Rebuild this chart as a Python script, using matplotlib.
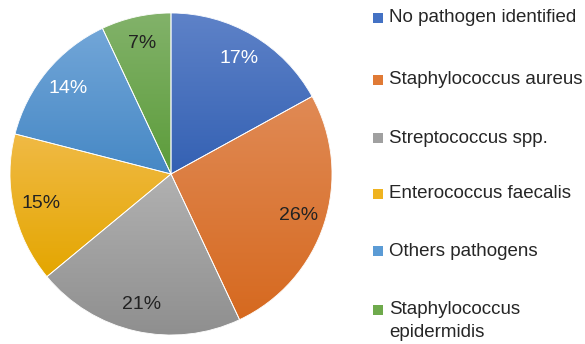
import matplotlib
matplotlib.use("Agg")
import matplotlib.pyplot as plt
import numpy as np
from matplotlib.colors import LinearSegmentedColormap
from matplotlib.patches import Rectangle, PathPatch

plt.rcParams['font.family'] = ['Liberation Sans', 'DejaVu Sans']

categories = ["No pathogen identified", "Staphylococcus aureus", "Streptococcus spp.",
              "Enterococcus faecalis", "Others pathogens", "Staphylococcus\nepidermidis"]
values = [17, 26, 21, 15, 14, 7]
top_colors = ["#5e82c8", "#e08a55", "#b1b1b1", "#f0ba45", "#72a6d8", "#82b26a"]
bottom_colors = ["#3461b3", "#d6691f", "#8e8e8e", "#e4a600", "#4688c5", "#5c9c3a"]
mid_colors = ["#4472c4", "#e07a35", "#a0a0a0", "#efb320", "#5b9bd5", "#6eaa4c"]
label_colors = ["white", "#222222", "#222222", "#222222", "white", "#222222"]

fig = plt.figure(figsize=(5.85, 3.44), dpi=100)
cx, cy, r = 171, 174, 161
W, H = 585, 344
ax = fig.add_axes([(cx - r) / W, (H - cy - r) / H, 2 * r / W, 2 * r / H])

wedges, texts, autotexts = ax.pie(
    values, colors=mid_colors, startangle=90, counterclock=False,
    autopct=lambda p: f"{p:.0f}%", pctdistance=0.83,
    wedgeprops=dict(edgecolor="white", linewidth=0.6),
    textprops=dict(fontsize=14))
ax.set_aspect("equal")
ax.axis("off")

# vertical light-to-dark shading inside each slice
for w, c0, c1 in zip(wedges, top_colors, bottom_colors):
    trans = w.get_patch_transform()
    pts = trans.transform(w.get_path().vertices)
    x0, x1 = pts[:, 0].min(), pts[:, 0].max()
    y0, y1 = pts[:, 1].min(), pts[:, 1].max()
    cmap = LinearSegmentedColormap.from_list("g", [c1, c0])
    grad = np.linspace(0, 1, 256).reshape(-1, 1)
    im = ax.imshow(grad, cmap=cmap, origin="lower", extent=[x0, x1, y0, y1],
                   aspect="auto", zorder=w.get_zorder() + 0.1, interpolation="bilinear")
    im.set_clip_path(w)
    ax.add_patch(PathPatch(w.get_path(), transform=trans + ax.transData,
                           facecolor="none", edgecolor="white",
                           linewidth=0.6, zorder=w.get_zorder() + 0.2))
ax.set_xlim(-1, 1)
ax.set_ylim(-1, 1)

for t, col in zip(autotexts, label_colors):
    t.set_color(col)
    t.set_zorder(5)

# legend drawn as squares and text in figure pixels
row_y = [18, 80, 138, 194, 251, 310]
for yy, lab, col in zip(row_y, categories, mid_colors):
    fig.patches.append(Rectangle((373 / W, (H - yy - 5) / H), 10 / W, 10 / H,
                                 transform=fig.transFigure, facecolor=col,
                                 edgecolor="none"))
    if "\n" in lab:
        fig.text(389 / W, (H - yy + 9) / H, lab, fontsize=13.5, color="#262626",
                 va="top", ha="left", linespacing=1.45)
    else:
        fig.text(389 / W, (H - yy) / H, lab, fontsize=13.5, color="#262626",
                 va="center", ha="left")

fig.savefig("out.png", dpi=100, facecolor="white")
